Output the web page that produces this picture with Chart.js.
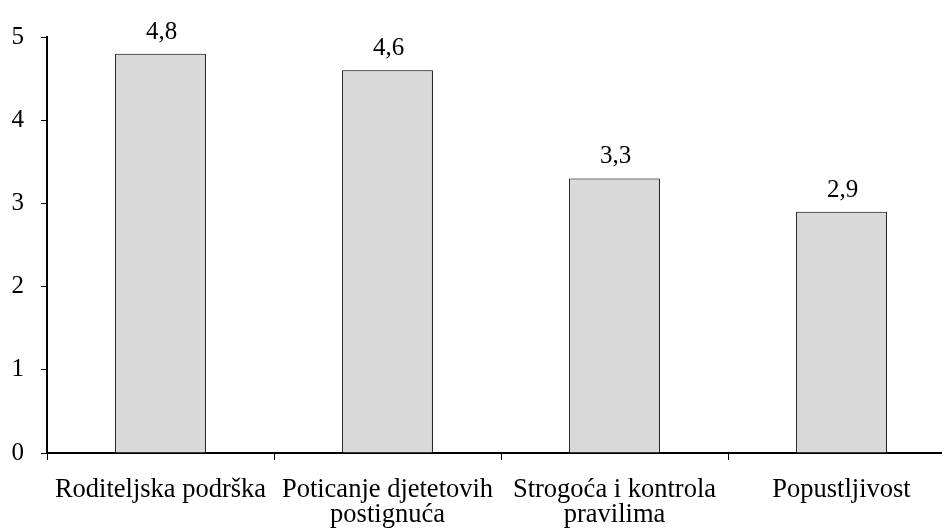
<!DOCTYPE html>
<html>
<head>
<meta charset="utf-8">
<script src="https://cdn.jsdelivr.net/npm/chart.js@4"></script>
<style>
    html, body { margin: 0; padding: 0; background: #fff; overflow: hidden; }
    #wrap { width: 962px; height: 530px; }
</style>
</head>
<body>
<div id="wrap"><canvas id="grafico"></canvas></div>
<script>
const kategorije = [
    'Roditeljska podrška',
    ['Poticanje djetetovih', 'postignuća'],
    ['Strogoća i kontrola', 'pravilima'],
    'Popustljivost'
];
const vrijednosti = [4.8, 4.6, 3.3, 2.9];
const yTicks = [0, 1, 2, 3, 4, 5];

const fontSerif = "'Liberation Serif', 'Times New Roman', serif";

// vrijednosti iznad stupaca (4,8 itd.)
const oznakePlugin = {
    id: 'oznake',
    afterDatasetsDraw(chart) {
        const ctx = chart.ctx;
        const meta = chart.getDatasetMeta(0);
        ctx.save();
        ctx.font = '25px ' + fontSerif;
        ctx.fillStyle = '#000';
        ctx.textAlign = 'center';
        ctx.textBaseline = 'alphabetic';
        meta.data.forEach((bar, i) => {
            const txt = vrijednosti[i].toFixed(1).replace('.', ',');
            ctx.fillText(txt, bar.x + 1, bar.y - 15);
        });
        ctx.restore();
    }
};

// lagana sjena desno od stupaca
const sjenaPlugin = {
    id: 'sjena',
    beforeDatasetsDraw(chart) {
        const ctx = chart.ctx;
        ctx.save();
        ctx.shadowColor = 'rgba(0,0,0,0.25)';
        ctx.shadowBlur = 4;
        ctx.shadowOffsetX = 2;
        ctx.shadowOffsetY = 1;
    },
    afterDatasetsDraw(chart) {
        chart.ctx.restore();
    }
};

new Chart(document.getElementById('grafico'), {
    type: 'bar',
    data: {
        labels: kategorije,
        datasets: [{
            data: vrijednosti,
            backgroundColor: '#d9d9d9',
            borderColor: '#000',
            borderWidth: 1,
            categoryPercentage: 0.4,
            barPercentage: 1
        }]
    },
    options: {
        responsive: true,
        maintainAspectRatio: false,
        animation: false,
        layout: { padding: { top: 37, right: 7, left: 0, bottom: 0 } },
        plugins: {
            legend: { display: false },
            tooltip: { enabled: false }
        },
        scales: {
            x: {
                offset: true,
                grid: {
                    offset: true,
                    drawOnChartArea: false,
                    drawTicks: true,
                    tickLength: 7,
                    color: '#000',
                    tickColor: '#000'
                },
                border: { color: '#000', width: 2 },
                ticks: {
                    color: '#000',
                    font: { family: fontSerif, size: 26.5, lineHeight: 0.95 },
                    padding: 17,
                    maxRotation: 0,
                    autoSkip: false
                },
                afterFit(scale) { scale.height = 77; }
            },
            y: {
                min: 0,
                max: 5,
                afterBuildTicks(scale) { scale.ticks = yTicks.map(v => ({ value: v })); },
                grid: {
                    drawOnChartArea: false,
                    drawTicks: true,
                    tickLength: 6,
                    tickColor: '#000'
                },
                border: { color: '#000', width: 2 },
                ticks: {
                    color: '#000',
                    font: { family: fontSerif, size: 25 },
                    padding: 17
                },
                afterFit(scale) { scale.width = 47; }
            }
        }
    },
    plugins: [sjenaPlugin, oznakePlugin]
});
</script>
</body>
</html>
